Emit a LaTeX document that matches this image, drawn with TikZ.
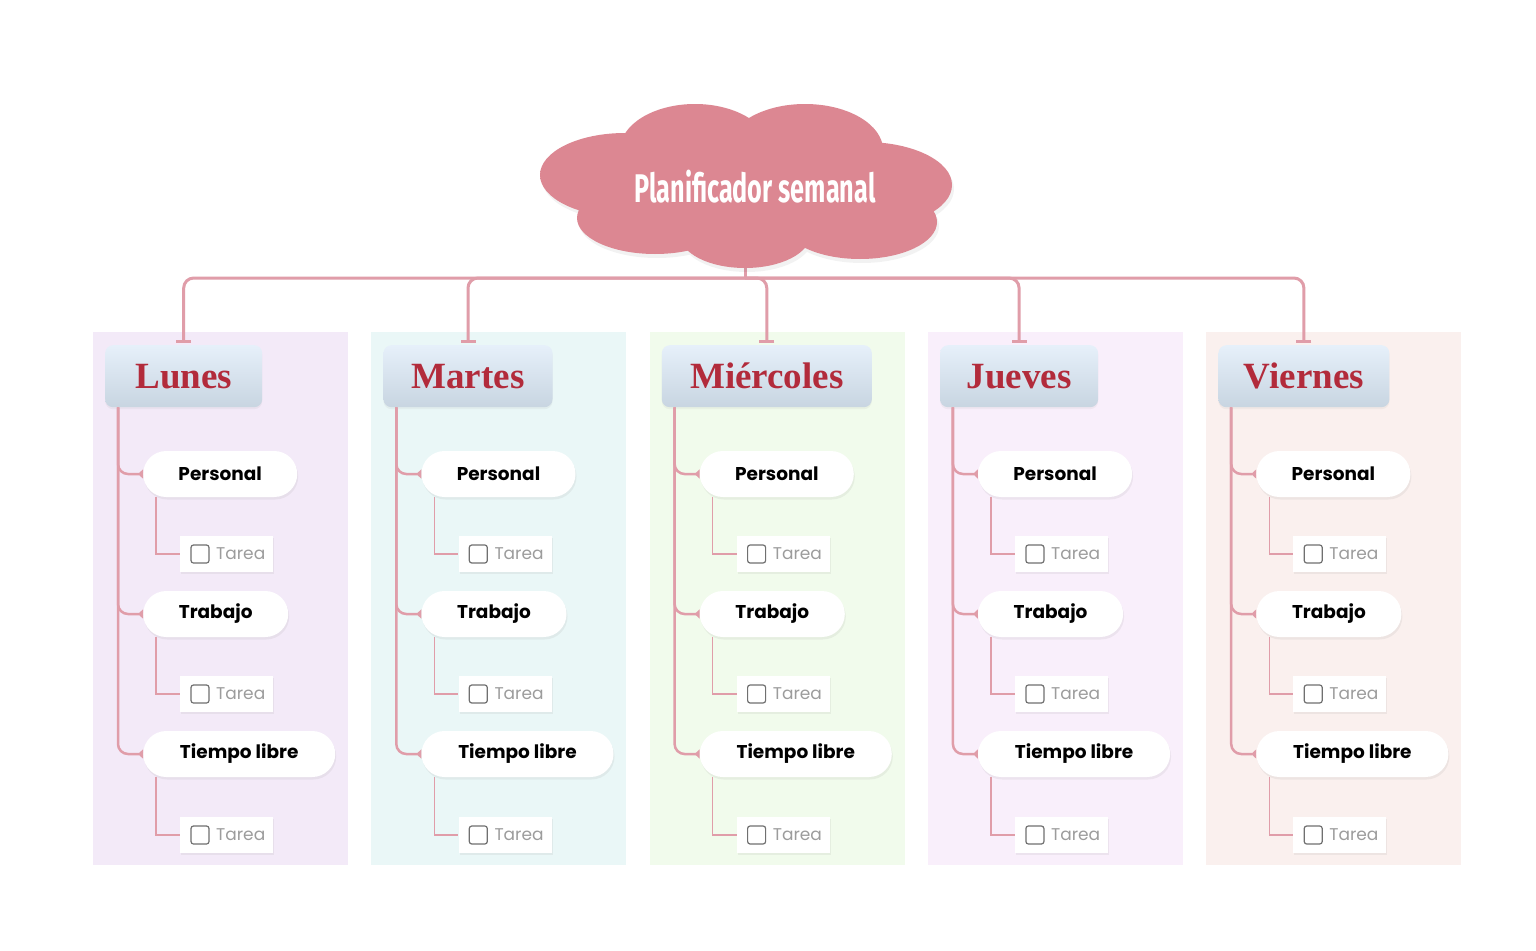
\documentclass[tikz,border=0pt]{standalone}
\usepackage{fontspec}
\setmainfont{Poppins}
\newfontfamily\titlefont[FakeStretch=0.63]{Fira Sans}
\newfontfamily\dayfont{Liberation Serif}
\usetikzlibrary{shadows,arrows.meta,calc}
\definecolor{conn}{HTML}{E09DA9}
\definecolor{cloudM}{HTML}{E48D99}
\definecolor{cloudE}{HTML}{DC8792}
\definecolor{bgA}{HTML}{F3EAF8}
\definecolor{bgB}{HTML}{EAF7F7}
\definecolor{bgC}{HTML}{F1FBEC}
\definecolor{bgD}{HTML}{F9EFFB}
\definecolor{bgE}{HTML}{FAF0EE}
\definecolor{headT}{HTML}{E6F0FA}
\definecolor{headB}{HTML}{C8D5E1}
\definecolor{dayred}{HTML}{B22B3B}
\definecolor{tgrey}{HTML}{9C9C9C}
\definecolor{cgrey}{HTML}{707070}
\begin{document}
\begin{tikzpicture}[x=1pt,y=-1pt,
  dayhead/.style={rounded corners=8pt, minimum height=62pt, inner sep=0pt,
    top color=headT, bottom color=headB, draw=none,
    drop shadow={shadow xshift=0pt,shadow yshift=-2pt,opacity=0.08},
    font=\dayfont\bfseries\fontsize{37}{40}\selectfont, text=dayred},
  pill/.style={rounded corners=23pt, minimum height=46pt, inner sep=0pt, fill=white,
    drop shadow={shadow xshift=1pt,shadow yshift=-2.5pt,opacity=0.10},
    font=\bfseries\fontsize{18.5}{20}\selectfont, text=black},
  tarea/.style={minimum width=93pt, minimum height=36pt, inner sep=0pt, fill=white,
    drop shadow={shadow xshift=1pt,shadow yshift=-2pt,opacity=0.10}},
  tareatxt/.style={inner sep=0pt, font=\fontsize{17}{18}\selectfont, text=tgrey},
  chk/.style={draw=cgrey, line width=1.2pt, rounded corners=2.5pt, fill=white},
  topconn/.style={draw=conn, line width=3pt},
  trunk/.style={draw=conn, line width=2.5pt, rounded corners=10pt,
    -{Triangle[reversed,length=5pt,width=9pt]}},
  thinconn/.style={draw=conn, line width=1.2pt},
]
\useasboundingbox (0,0) rectangle (1536,950);
\fill[white] (0,0) rectangle (1536,950);

\foreach \i/\dname/\bg/\hw in {0/Lunes/bgA/157,1/Martes/bgB/169,2/Miércoles/bgC/210,3/Jueves/bgD/158,4/Viernes/bgE/171}
{
  \pgfmathsetmacro\L{93+278.3*\i}
  \fill[\bg] (\L,332) rectangle (\L+255,865);
  \node[dayhead, minimum width=\hw pt, anchor=north west] (day\i) at (\L+12,345) {\dname};
  \node[pill, minimum width=154pt, anchor=west] (per\i) at (\L+50,474) {Personal};
  \node[pill, minimum width=145pt, anchor=west] (tra\i) at (\L+50,614) {Trabajo};
  \node[pill, minimum width=192pt, anchor=west] (tie\i) at (\L+50,754) {Tiempo libre};
  \foreach \p/\y in {per/554,tra/694,tie/835}{
    \node[tarea, anchor=west] (t\p\i) at (\L+87,\y) {};
    \draw[chk] ($(t\p\i.west)+(11,-9)$) rectangle ++(18,18);
    \node[tareatxt, anchor=west] (x\p\i) at ($(t\p\i.west)+(36,0)$) {Tarea};
    \draw[thinconn] ($(\p\i.south west)+(13,0)$) |- (t\p\i.west);
  }
  \foreach \p in {per,tra,tie}
    \draw[trunk] ($(day\i.south west)+(13,0)$) |- (\p\i.west);
}

% top connectors
\coordinate (cb) at (745,262);
\coordinate (hj) at (745,278);
\draw[topconn] (cb) -- (hj);
\foreach \i in {0,...,4}
  \draw[topconn, rounded corners=10pt, -{Bar[width=15pt]}] (hj) -| ([yshift=2pt]day\i.north);

% cloud
\def\cloudpath{(695,150) ellipse [x radius=75, y radius=46]
  (805,150) ellipse [x radius=78, y radius=46]
  (625,175) ellipse [x radius=85, y radius=42]
  (865,185) ellipse [x radius=87, y radius=43]
  (655,218) ellipse [x radius=78, y radius=36]
  (745,235) ellipse [x radius=65, y radius=33]
  (860,222) ellipse [x radius=77, y radius=37]
  (745,190) ellipse [x radius=150, y radius=50]}
\begin{scope}[shift={(2,4)}]
  \fill[black, opacity=0.05] \cloudpath;
\end{scope}
\shade[top color=cloudE, middle color=cloudM, bottom color=cloudE] \cloudpath;
\node[font=\titlefont\bfseries\fontsize{40}{44}\selectfont, text=white] (title) at (755,187) {Planificador semanal};
\end{tikzpicture}
\end{document}
